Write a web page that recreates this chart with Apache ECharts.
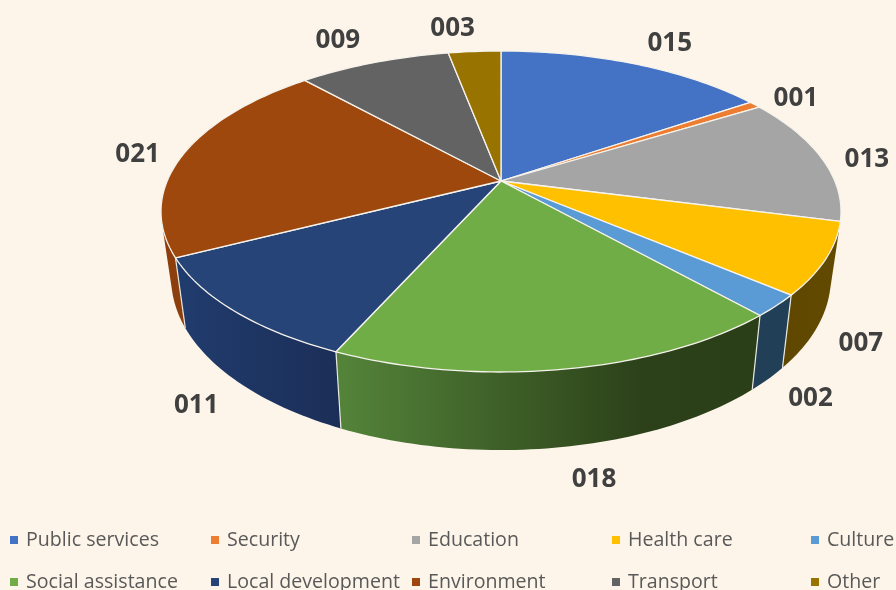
<!DOCTYPE html>
<html>
<head>
<meta charset="utf-8">
<style>
  html, body { margin: 0; padding: 0; background: #fef5ea; }
  #chart { width: 896px; height: 590px; }
</style>
</head>
<body>
<div id="chart"></div>
<script src="https://cdn.jsdelivr.net/npm/echarts@6/dist/echarts.min.js"></script>
<script>
const categories = ['Public services', 'Security', 'Education', 'Health care', 'Culture',
  'Social assistance', 'Local development', 'Environment', 'Transport', 'Other']
const values = [15.5, 0.7, 12.8, 7.2, 2.2, 18.3, 10.8, 20.8, 8.7, 3]
const valueLabels = ['015', '001', '013', '007', '002', '018', '011', '021', '009', '003']

const colors = ['#4472c4', '#ed7d31', '#a5a5a5', '#ffc000', '#5b9bd5',
  '#70ad47', '#264478', '#9e480e', '#636363', '#997300']
// only the slices that reach the front get a side wall
const wallStops = {
  3: [[0, '#5f4700'], [1, '#634a00']],
  4: [[0, '#223f58'], [1, '#223f58']],
  5: [[0, '#54843a'], [0.72, '#2c4119'], [1, '#2a3f18']],
  6: [[0, '#203c6e'], [1, '#1b2e57']],
  7: [[0, '#8c3f0c'], [1, '#8c3f0c']],
}
// label shift from the slice's rim point
const labelShift = [[35, -20], [41, -6], [45, 1], [35, 85], [34, 93],
  [30, 110], [-38, 95], [-46, 1], [-36, -22], [-22, -23]]
// legend grid
const legendLefts = [10, 211, 412, 612, 811]
const legendTops = [530, 572]

const total = values.reduce((a, b) => a + b, 0)
const cx = 501
const cy = 181
const radiusX = 333.8
const radiusY = 154.7
const tilt = 0.19

// tilted circle, nearer side drawn larger
function project(angle) {
  const u = Math.sin(angle)
  const v = -Math.cos(angle)
  const w = 1 - tilt * v
  return [cx + (radiusX * u) / w, cy + (radiusY * v) / w]
}

function lower(p) {
  return [cx + 0.97 * (p[0] - cx), cy + 64.7 + 1.07 * (p[1] - cy)]
}

function arcPoints(from, to) {
  const steps = Math.max(2, Math.ceil((to - from) / 0.02))
  const pts = []
  for (let i = 0; i <= steps; i++) {
    pts.push(project(from + ((to - from) * i) / steps))
  }
  return pts
}

// the wall outline has to follow the tangent at the sides, so take the hull
function convexHull(points) {
  const pts = points.slice().sort((a, b) => a[0] - b[0] || a[1] - b[1])
  const cross = (o, a, b) => (a[0] - o[0]) * (b[1] - o[1]) - (a[1] - o[1]) * (b[0] - o[0])
  const half = (list) => {
    const out = []
    for (const p of list) {
      while (out.length > 1 && cross(out[out.length - 2], out[out.length - 1], p) <= 0) out.pop()
      out.push(p)
    }
    out.pop()
    return out
  }
  return half(pts).concat(half(pts.slice().reverse()))
}

function sliceRange(index) {
  let before = 0
  for (let i = 0; i < index; i++) before += values[i]
  const scale = (Math.PI * 2) / total
  return [before * scale, (before + values[index]) * scale]
}

function renderSlice(params, api) {
  const index = params.seriesIndex
  const [from, to] = sliceRange(index)
  const rim = arcPoints(from, to)
  const children = []

  if (wallStops[index]) {
    const stops = wallStops[index].map(([offset, color]) => ({ offset, color }))
    // walls nearer the viewer go on top of the ones further back
    const nearness = -Math.cos((from + to) / 2)
    children.push({
      type: 'polygon',
      z2: 1.5 + 0.4 * nearness,
      shape: { points: convexHull(rim.concat(rim.map(lower))) },
      style: { fill: new echarts.graphic.LinearGradient(0, 0, 1, 0, stops) },
    })
    if (-Math.cos(from) > 0.3) {
      children.push({
        type: 'line',
        z2: 2,
        shape: { x1: rim[0][0], y1: rim[0][1], x2: lower(rim[0])[0], y2: lower(rim[0])[1] },
        style: { stroke: '#e8e8e0', lineWidth: 1.2 },
      })
    }
  }

  children.push({
    type: 'polygon',
    z2: 3,
    shape: { points: [[cx, cy]].concat(rim) },
    style: { fill: colors[index], stroke: '#f6f3ec', lineWidth: 1.3, lineJoin: 'round' },
  })

  const mid = project((from + to) / 2)
  children.push({
    type: 'text',
    z2: 4,
    x: mid[0] + labelShift[index][0],
    y: mid[1] + labelShift[index][1],
    style: {
      text: valueLabels[index],
      fill: '#404040',
      font: 'bold 26px "Open Sans"',
      align: 'center',
      verticalAlign: 'middle',
    },
  })

  return { type: 'group', children }
}

const chart = echarts.init(document.getElementById('chart'))
chart.setOption({
  backgroundColor: '#fef5ea',
  animation: false,
  legend: categories.map((name, i) => ({
    left: legendLefts[i % 5],
    top: legendTops[Math.floor(i / 5)],
    padding: 0,
    itemWidth: 8,
    itemHeight: 8,
    icon: 'rect',
    data: [name],
    textStyle: {
      color: '#595959',
      fontFamily: 'Open Sans',
      fontSize: 19.6,
      padding: [0, 0, 0, 3],
    },
  })),
  series: categories.map((name, i) => ({
    type: 'custom',
    name,
    coordinateSystem: 'none',
    itemStyle: { color: colors[i] },
    data: [[values[i]]],
    renderItem: renderSlice,
  })),
})
</script>
</body>
</html>
